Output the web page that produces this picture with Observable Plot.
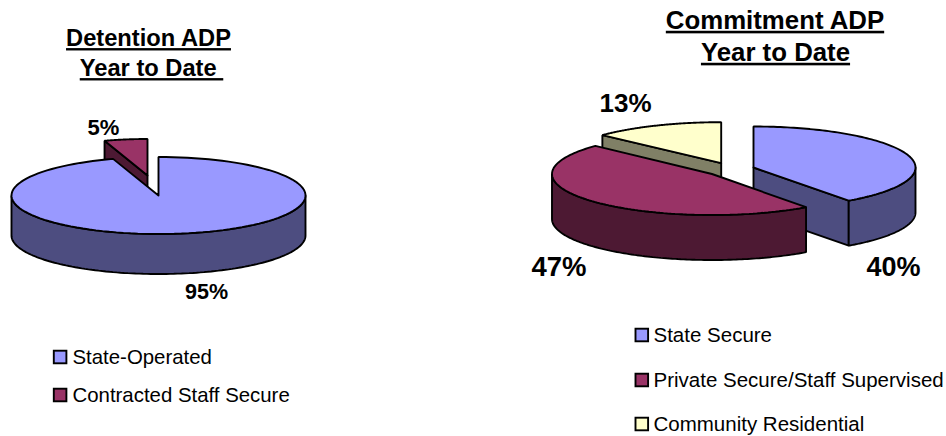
<!DOCTYPE html>
<html>
<head>
<meta charset="utf-8">
<script src="https://cdn.jsdelivr.net/npm/d3@7"></script>
<script src="https://cdn.jsdelivr.net/npm/@observablehq/plot@0.6"></script>
<style>
html,body{margin:0;padding:0;background:#fff}
svg{display:block}
.ttl text{text-decoration:underline;text-decoration-thickness:2.6px;text-underline-offset:2px;white-space:pre}
</style>
</head>
<body>
<div id="chart"></div>
<script>
// Data
const detentionCategories = ["State-Operated", "Contracted Staff Secure"];
const detentionValues = [95, 5];
const detentionLabels = ["95%", "5%"];
const commitmentCategories = ["State Secure", "Private Secure/Staff Supervised", "Community Residential"];
const commitmentValues = [40, 47, 13];
const commitmentLabels = ["40%", "47%", "13%"];
const detentionTop = ["#9999FF", "#993366"];
const detentionSide = ["#4D4D80", "#4D1933"];
const commitmentTop = ["#9999FF", "#993366", "#FFFFCC"];
const commitmentSide = ["#4D4D80", "#4D1933", "#808066"];

// Layout of each pie: where each slice's apex lies and how large it is
const detentionPie = {
  depth: 40, order: [1, 0],
  apex: [[158, 195], [147, 175]],
  radius: [[147, 38.5], [139, 36.5]]
};
const commitmentPie = {
  depth: 45, order: [2, 0, 1],
  apex: [[753, 167], [711.5, 173.5], [720.7, 162.7]],
  radius: [[162, 41], [160, 41], [163, 41]]
};

const rad = d => d * Math.PI / 180;

function slicePolys(name, values, tops, sides, pie) {
  const total = d3.sum(values);
  let acc = 0;
  const spans = values.map(v => { const s = acc; acc += v; return [s / total * 360, acc / total * 360]; });
  const polys = [];
  for (const i of pie.order) {
    const [a0, a1] = spans[i];
    const [cx, cy] = pie.apex[i];
    const [rx, ry] = pie.radius[i];
    const pt = (a, dz = 0) => [cx + rx * Math.sin(rad(a)), cy - ry * Math.cos(rad(a)) + dz];
    const arc = (s, e, dz = 0) => d3.range(0, 121).map(k => pt(s + (e - s) * k / 120, dz));
    const d = pie.depth;
    // radial wall facing the viewer
    const radial = a => [[cx, cy], pt(a), pt(a, d), [cx, cy + d]];
    if (Math.sin(rad(a1)) > 0.001) polys.push({pts: radial(a1), fill: sides[i]});
    if (Math.sin(rad(a0)) < -0.001) polys.push({pts: radial(a0), fill: sides[i]});
    // outer wall: the part of the rim on the front half
    const s = Math.max(a0, 90), e = Math.min(a1, 270);
    if (e > s) polys.push({pts: [...arc(s, e), ...arc(e, s, d)], fill: sides[i]});
    // top face
    polys.push({pts: [[cx, cy], ...arc(a0, a1)], fill: tops[i]});
  }
  return polys.flatMap((p, j) => [...p.pts, p.pts[0]].map(([x, y]) => ({id: `${name}-${j}`, x, y, fill: p.fill})));
}

const rows = [
  ...slicePolys("det", detentionValues, detentionTop, detentionSide, detentionPie),
  ...slicePolys("com", commitmentValues, commitmentTop, commitmentSide, commitmentPie)
];

const titles = [
  {x: 148, y: 38, t: "Detention ADP", s: 23.7},
  {x: 151, y: 68, t: "Year to Date\u00A0", s: 23.7},
  {x: 774.5, y: 20, t: "Commitment ADP", s: 25.8},
  {x: 775, y: 52, t: "Year to Date", s: 25.8}
];
const pctLabels = [
  {x: 206, y: 292, t: detentionLabels[0], s: 21.5},
  {x: 103, y: 127, t: detentionLabels[1], s: 22},
  {x: 893, y: 267, t: commitmentLabels[0], s: 27},
  {x: 558.5, y: 267, t: commitmentLabels[1], s: 27.5},
  {x: 625, y: 103, t: commitmentLabels[2], s: 26}
];
const legendRows = [
  {x: 72, y: 357, sw: 53.8, t: detentionCategories[0], fill: detentionTop[0], s: 20.4},
  {x: 72, y: 395, sw: 53.8, t: detentionCategories[1], fill: detentionTop[1], s: 20.4},
  {x: 653, y: 335, sw: 635.5, t: commitmentCategories[0], fill: commitmentTop[0], s: 20.5},
  {x: 653, y: 380, sw: 635.5, t: commitmentCategories[1], fill: commitmentTop[1], s: 20.5},
  {x: 653, y: 424, sw: 635.5, t: commitmentCategories[2], fill: commitmentTop[2], s: 20.5}
];

const font = "Liberation Sans, Arial, sans-serif";
const chart = Plot.plot({
  width: 946, height: 436,
  margin: 0,
  x: {domain: [0, 946], range: [0, 946], axis: null},
  y: {domain: [0, 436], range: [0, 436], axis: null},
  color: {type: "identity"},
  style: {background: "#fff", fontFamily: font},
  marks: [
    Plot.line(rows, {x: "x", y: "y", z: "id", fill: "fill", stroke: "#000", strokeWidth: 1.9, strokeLinejoin: "miter", curve: "linear"}),
    Plot.text(titles, {x: "x", y: "y", text: "t", fontSize: "s", fontWeight: "bold", fill: "#000", fontFamily: font, className: "ttl"}),
    Plot.text(pctLabels, {x: "x", y: "y", text: "t", fontSize: "s", fontWeight: "bold", fill: "#000", fontFamily: font}),
    Plot.rect(legendRows, {x1: "sw", x2: d => d.sw + 12.6, y1: d => d.y - 6.3, y2: d => d.y + 6.3, fill: "fill", stroke: "#000", strokeWidth: 1.9}),
    Plot.text(legendRows, {x: "x", y: "y", text: "t", fontSize: "s", textAnchor: "start", fill: "#000", fontFamily: font})
  ]
});
document.getElementById("chart").append(chart);
</script>
</body>
</html>
